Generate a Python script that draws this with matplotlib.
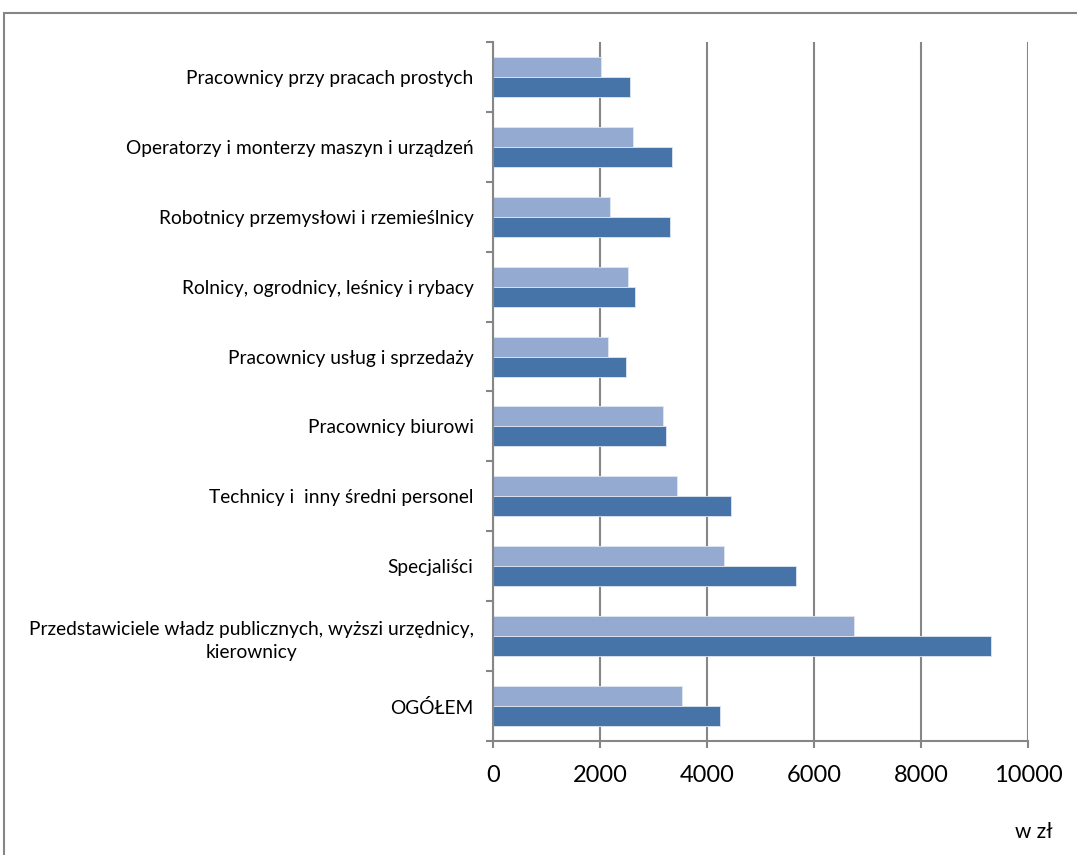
import matplotlib
matplotlib.use("Agg")
import matplotlib.pyplot as plt
import numpy as np
from matplotlib.patches import Rectangle

plt.rcParams['font.family'] = ['Lato', 'DejaVu Sans']

# Categories listed bottom to top
categories = [
    "OGÓŁEM",
    "Przedstawiciele władz publicznych, wyższi urzędnicy,\nkierownicy",
    "Specjaliści",
    "Technicy i  inny średni personel",
    "Pracownicy biurowi",
    "Pracownicy usług i sprzedaży",
    "Rolnicy, ogrodnicy, leśnicy i rybacy",
    "Robotnicy przemysłowi i rzemieślnicy",
    "Operatorzy i monterzy maszyn i urządzeń",
    "Pracownicy przy pracach prostych",
]
series_1 = [4250, 9310, 5670, 4455, 3240, 2485, 2655, 3300, 3350, 2570]  # dark bars
series_2 = [3540, 6755, 4325, 3440, 3175, 2155, 2515, 2190, 2615, 2015]  # light bars
x_ticks = [0, 2000, 4000, 6000, 8000, 10000]
unit_label = "w zł"

dark = "#4674A8"
light = "#95AAD1"
gray = "#868686"

fig = plt.figure(figsize=(10.77, 8.55), dpi=100)
W, H = 1077, 855
ax = fig.add_axes([493 / W, 1 - 741 / H, (1028 - 493) / W, (741 - 42) / H])

y = np.arange(len(categories))
h = 20 / 70
ax.barh(y - h / 2, series_1, height=h, color=dark, edgecolor="#dfe6f0", linewidth=0.6, zorder=3)
ax.barh(y + h / 2, series_2, height=h, color=light, edgecolor="#dfe6f0", linewidth=0.6, zorder=3)

ax.set_xlim(0, 10000)
ax.set_ylim(-0.5, len(categories) - 0.5)
ax.set_xticks(x_ticks)
ax.set_xticklabels([str(v) for v in x_ticks], fontsize=17)
ax.set_yticks(y)
ax.set_yticklabels(categories, fontsize=13.8, multialignment="center", linespacing=1.45)
ax.set_yticks(np.arange(-0.5, len(categories), 1), minor=True)

ax.tick_params(axis="y", which="major", length=0, pad=14)
ax.tick_params(axis="y", which="minor", length=5, width=1.5, color=gray, direction="out")
ax.tick_params(axis="x", length=5, width=1.5, color=gray, direction="out", pad=12)

ax.grid(axis="x", color=gray, linewidth=1.5, zorder=0)
for side in ("top", "right"):
    ax.spines[side].set_visible(False)
for side in ("left", "bottom"):
    ax.spines[side].set_color(gray)
    ax.spines[side].set_linewidth(1.5)
    ax.spines[side].set_zorder(4)

fig.text(1053 / W, 1 - 832 / H, unit_label, fontsize=15, ha="right", va="center")

# Outer chart frame
fig.patches.append(Rectangle((4 / W, -0.1), 1.2, 1 - 13 / H + 0.1, transform=fig.transFigure,
                             fill=False, edgecolor=gray, linewidth=1.5))

fig.savefig("out.png", dpi=100, facecolor="white")
